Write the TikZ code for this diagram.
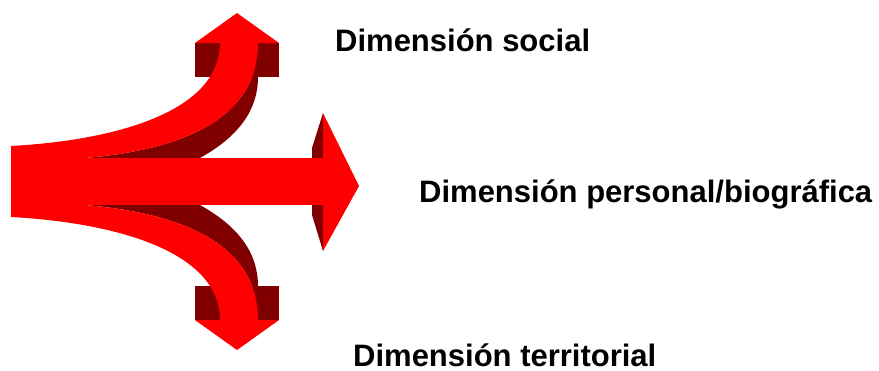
\documentclass[tikz,border=0pt]{standalone}
\usepackage{fontspec}
\setmainfont{Liberation Sans}
\usepackage{tikz}
\definecolor{arrowred}{HTML}{FF0000}
\definecolor{arrowdark}{HTML}{800000}

\begin{document}
\begin{tikzpicture}[x=1pt, y=-1pt,
    face/.style={fill=arrowred},
    side/.style={fill=arrowdark},
    dimlabel/.style={font=\fontsize{31}{37}\selectfont\bfseries, inner sep=0pt, anchor=base west}
]
\useasboundingbox (0,0) rectangle (879,370);

% upper and lower branches, the lower one mirrored
\foreach \flip/\off in {1/0, -1/363} {
  \begin{scope}[shift={(0,\off)}, yscale=\flip]
    \fill[side] (195,43) rectangle (279,77);
    \fill[side] (258,77) .. controls (258,120) and (225,150) .. (170,172)
      -- (85,172) -- (85,158) .. controls (180,150) and (258,120) .. (258,43) -- cycle;
    \fill[face] (11,146) .. controls (120,140) and (220,110) .. (220,43)
      -- (258,43) .. controls (258,120) and (180,150) .. (85,158)
      -- (85,182) -- (11,182) -- cycle;
    \fill[face] (195,43) -- (237,13) -- (279,43) -- cycle;
  \end{scope}
}

% straight branch
\fill[side] (323,113) -- (312,148) -- (312,215) -- (323,251) -- cycle;
\fill[face] (11,158) rectangle (323,205);
\fill[face] (323,113) -- (359,186) -- (323,251) -- cycle;

\node[dimlabel] (social) at (335,51) {Dimensión social};
\node[dimlabel] (personal) at (419,202) {Dimensión personal/biográfica};
\node[dimlabel] (territorial) at (353,366) {Dimensión territorial};
\end{tikzpicture}
\end{document}
